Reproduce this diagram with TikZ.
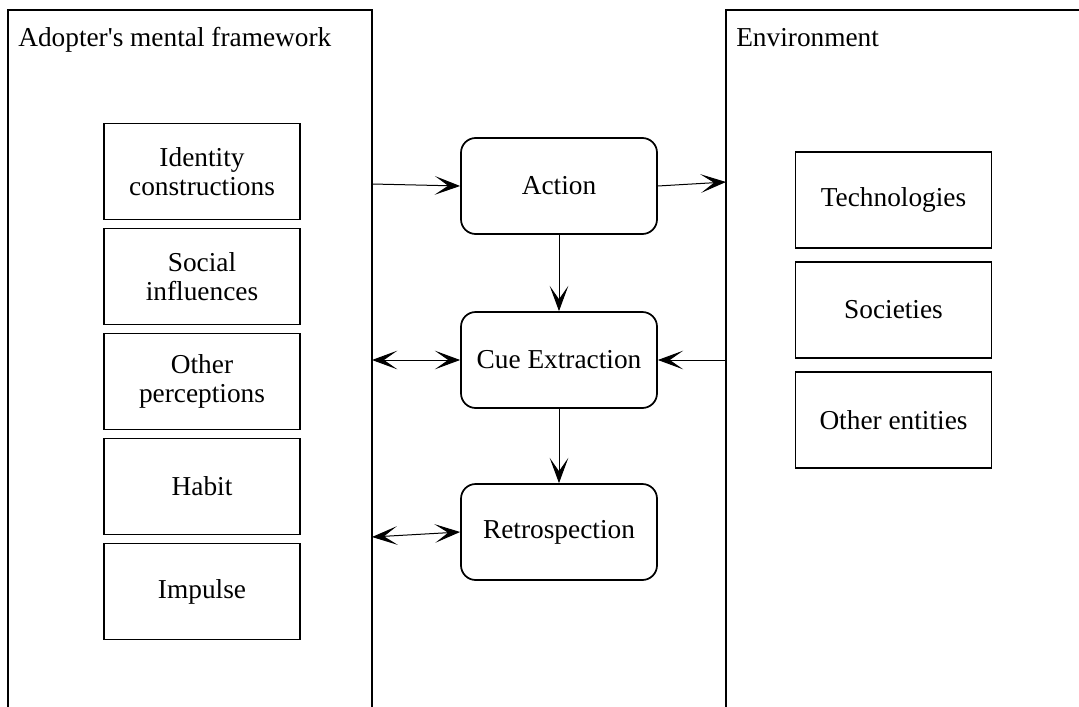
\documentclass[tikz,border=0pt]{standalone}
\usepackage{fontspec}
\setmainfont{Liberation Serif}[Ligatures=TeXOff]
\usetikzlibrary{arrows.meta}
\begin{document}
\begin{tikzpicture}[x=0.75pt,y=-0.75pt,
  panel/.style={line width=1.5pt},
  box/.style={draw,line width=1.3pt,minimum width=147pt,minimum height=72pt,inner sep=0pt,align=center,font=\fontsize{20.5}{22}\selectfont},
  rbox/.style={box,rounded corners=11pt},
  title/.style={anchor=base west,inner sep=0pt,font=\fontsize{20.5}{22}\selectfont},
  arr/.style={line width=0.75pt,-{Stealth[length=19pt,width=14pt,inset=10pt]}},
  darr/.style={line width=0.75pt,{Stealth[length=19pt,width=14pt,inset=10pt]}-{Stealth[length=19pt,width=14pt,inset=10pt]}}]
\useasboundingbox (0,0) rectangle (1079,707);
% panels (open at the bottom / right)
\draw[panel] (8,720) -- (8,10) -- (372,10) -- (372,720);
\draw[panel] (726,720) -- (726,10) -- (1090,10);
\node[title] (t1) at (18,46) {Adopter's mental framework};
\node[title] (t2) at (736,46) {Environment};
% left column
\node[box] (id) at (202,171.5) {Identity\\constructions};
\node[box] (so) at (202,276.5) {Social\\influences};
\node[box] (op) at (202,381.5) {Other\\perceptions};
\node[box] (ha) at (202,486.5) {Habit};
\node[box] (im) at (202,591.5) {Impulse};
% right column
\node[box] (te) at (893.5,200) {Technologies};
\node[box] (sc) at (893.5,310) {Societies};
\node[box] (oe) at (893.5,420) {Other entities};
% center
\node[rbox] (ac) at (559,186) {Action};
\node[rbox] (ce) at (559,360) {Cue Extraction};
\node[rbox] (re) at (559,532) {Retrospection};
% connector ends on the panels
\coordinate (l1) at (372,184);
\coordinate (l2) at (372,360);
\coordinate (l3) at (372,537);
\coordinate (r1) at (726,182);
\coordinate (r2) at (726,360);
% connectors
\draw[arr] (l1) -- (ac.west);
\draw[arr] (ac.east) -- (r1);
\draw[arr] (ac.south) -- (ce.north);
\draw[arr] (ce.south) -- (re.north);
\draw[darr] (l2) -- (ce.west);
\draw[arr] (r2) -- (ce.east);
\draw[darr] (l3) -- (re.west);
\end{tikzpicture}
\end{document}
